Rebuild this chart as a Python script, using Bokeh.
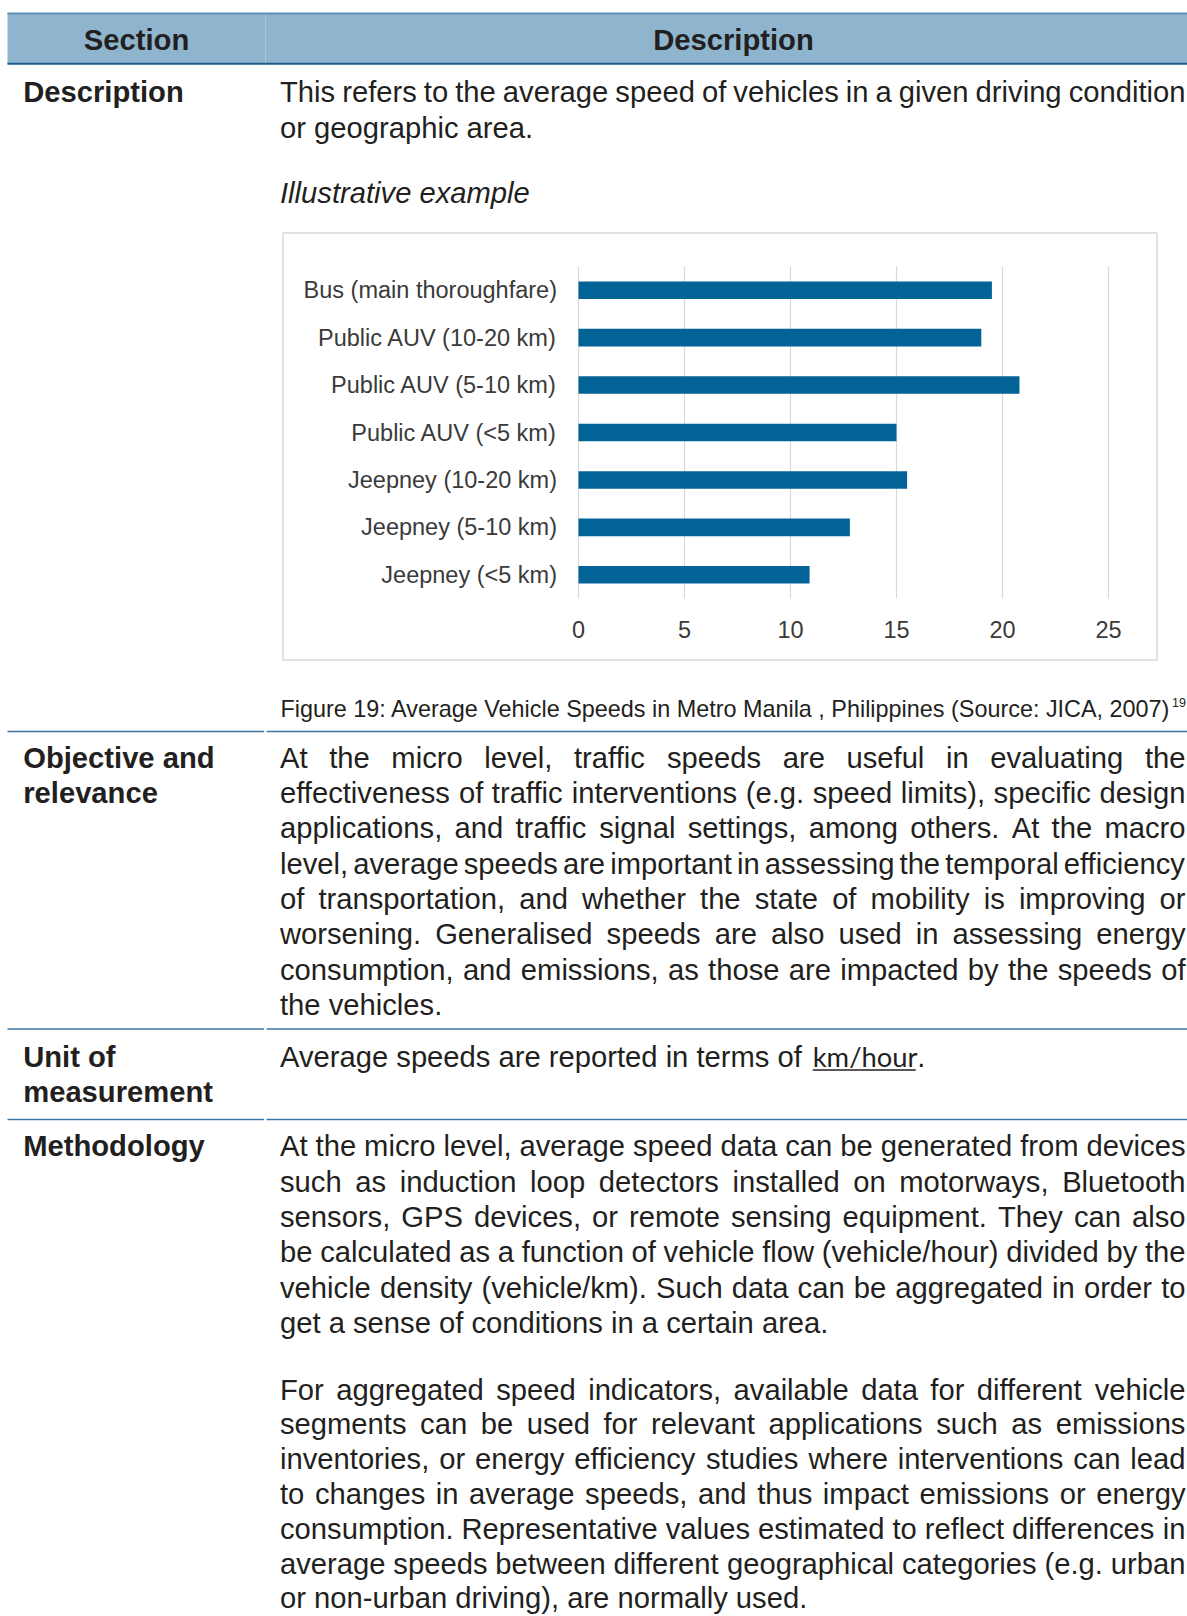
from bokeh.plotting import figure
from bokeh.models import Range1d
from bokeh.core.properties import value
from bokeh.embed import file_html
from bokeh.resources import INLINE

# ---------------- chart data ----------------
categories = [
    "Bus (main thoroughfare)",
    "Public AUV (10-20 km)",
    "Public AUV (5-10 km)",
    "Public AUV (<5 km)",
    "Jeepney (10-20 km)",
    "Jeepney (5-10 km)",
    "Jeepney (<5 km)",
]
speeds = [19.5, 19.0, 20.8, 15.0, 15.5, 12.8, 10.9]
x_ticks = [0, 5, 10, 15, 20, 25]
x_min, x_max = 0, 25

# ---------------- page text ----------------
header_left = "Section"
header_right = "Description"
row_labels = [["Description"], ["Objective and", "relevance"], ["Unit of", "measurement"], ["Methodology"]]
desc_lines = [
    "This refers to the average speed of vehicles in a given driving condition",
    "or geographic area.",
]
illustrative = "Illustrative example"
caption = "Figure 19: Average Vehicle Speeds in Metro Manila , Philippines (Source: JICA, 2007)"
caption_sup = "19"
objective_lines = [
    "At the micro level, traffic speeds are useful in evaluating the",
    "effectiveness of traffic interventions (e.g. speed limits), specific design",
    "applications, and traffic signal settings, among others. At the macro",
    "level, average speeds are important in assessing the temporal efficiency",
    "of transportation, and whether the state of mobility is improving or",
    "worsening. Generalised speeds are also used in assessing energy",
    "consumption, and emissions, as those are impacted by the speeds of",
    "the vehicles.",
]
unit_prefix = "Average speeds are reported in terms of "
unit_link = "km/hour"
unit_suffix = "."
method_p1 = [
    "At the micro level, average speed data can be generated from devices",
    "such as induction loop detectors installed on motorways, Bluetooth",
    "sensors, GPS devices, or remote sensing equipment. They can also",
    "be calculated as a function of vehicle flow (vehicle/hour) divided by the",
    "vehicle density (vehicle/km). Such data can be aggregated in order to",
    "get a sense of conditions in a certain area.",
]
method_p2 = [
    "For aggregated speed indicators, available data for different vehicle",
    "segments can be used for relevant applications such as emissions",
    "inventories, or energy efficiency studies where interventions can lead",
    "to changes in average speeds, and thus impact emissions or energy",
    "consumption. Representative values estimated to reflect differences in",
    "average speeds between different geographical categories (e.g. urban",
    "or non-urban driving), are normally used.",
]

# Arial / Liberation Sans advance widths (1/1000 em)
_W = {' ': 278, '!': 278, '"': 355, '#': 556, '$': 556, '%': 889, '&': 667, "'": 191,
      '(': 333, ')': 333, '*': 389, '+': 584, ',': 278, '-': 333, '.': 278, '/': 278,
      ':': 278, ';': 278, '<': 584, '=': 584, '>': 584, '?': 556, '@': 1015,
      'A': 667, 'B': 667, 'C': 722, 'D': 722, 'E': 667, 'F': 611, 'G': 778, 'H': 722,
      'I': 278, 'J': 500, 'K': 667, 'L': 556, 'M': 833, 'N': 722, 'O': 778, 'P': 667,
      'Q': 778, 'R': 722, 'S': 667, 'T': 611, 'U': 722, 'V': 667, 'W': 944, 'X': 667,
      'Y': 667, 'Z': 611,
      'a': 556, 'b': 556, 'c': 500, 'd': 556, 'e': 556, 'f': 278, 'g': 556, 'h': 556,
      'i': 222, 'j': 222, 'k': 500, 'l': 222, 'm': 833, 'n': 556, 'o': 556, 'p': 556,
      'q': 556, 'r': 333, 's': 500, 't': 278, 'u': 556, 'v': 500, 'w': 722, 'x': 500,
      'y': 500, 'z': 500}
for _d in "0123456789":
    _W[_d] = 556


def tw(s, size):
    return sum(_W.get(c, 556) for c in s) * size / 1000.0


FONT = "Liberation Sans"
TXT = "#231f20"
BODY = 29.2
STEP = 35.3
X0, X1 = 279.5, 1185.0


def paragraph(lines, y0, xs, ys, ts, step=STEP):
    """Justified paragraph: every line but the last is spread to the full width."""
    for i, line in enumerate(lines):
        y = y0 + i * step
        if i == len(lines) - 1:
            xs.append(X0); ys.append(y); ts.append(line)
            continue
        words = line.split(" ")
        widths = [tw(w, BODY) for w in words]
        gap = (X1 - X0 - sum(widths)) / (len(words) - 1)
        x = X0
        for w, wd in zip(words, widths):
            xs.append(x); ys.append(y); ts.append(w)
            x += wd + gap


W_PX, H_PX = 1187, 1616
p = figure(width=W_PX, height=H_PX, x_range=Range1d(0, W_PX), y_range=Range1d(H_PX, 0),
           output_backend="svg", toolbar_location=None, min_border=0,
           x_axis_location=None, y_axis_location=None, outline_line_color=None,
           background_fill_color="white", border_fill_color="white")
p.xgrid.visible = False
p.ygrid.visible = False

# ---------------- header band ----------------
p.quad(left=7, right=1187, top=12.5, bottom=63.5, fill_color="#8fb4cd", line_color=None)
p.segment(x0=[7], y0=[13], x1=[1187], y1=[13], line_color="#5d8fb5", line_width=2)
p.segment(x0=[7], y0=[63.2], x1=[1187], y1=[63.2], line_color="#1b5b8b", line_width=2)
p.segment(x0=[265], y0=[14], x1=[265], y1=[62], line_color="#a6c3d8", line_width=1)
p.text(x=[136, 733], y=[39, 39], text=[header_left, header_right], text_align="center",
       text_baseline="middle", text_font=value(FONT), text_font_style="bold",
       text_font_size="29.2px", text_color=TXT)

# ---------------- row separators ----------------
for ysep in [731, 1028.5, 1119]:
    p.segment(x0=[7, 266], y0=[ysep, ysep], x1=[263.5, 1187], y1=[ysep, ysep],
              line_color="#3a76a4", line_width=1.6)

# ---------------- left column labels ----------------
lab_x, lab_y, lab_t = [], [], []
for y0, lines in zip([91.7, 757.3, 1056.2, 1145.8], row_labels):
    for k, t in enumerate(lines):
        lab_x.append(22.7); lab_y.append(y0 + k * STEP); lab_t.append(t)
p.text(x=lab_x, y=lab_y, text=lab_t, text_align="left", text_baseline="middle",
       text_font=value(FONT), text_font_style="bold", text_font_size="29.2px", text_color=TXT)

# ---------------- body text ----------------
bx, by, bt = [], [], []
paragraph(desc_lines, 91.7, bx, by, bt)
paragraph(objective_lines, 757.3, bx, by, bt)
paragraph(method_p1, 1145.8, bx, by, bt)
paragraph(method_p2, 1389.0, bx, by, bt, step=34.8)
bx.append(X0); by.append(1056.2); bt.append(unit_prefix.rstrip())
p.text(x=bx, y=by, text=bt, text_align="left", text_baseline="middle",
       text_font=value(FONT), text_font_size="29.2px", text_color=TXT)

link_x = X0 + tw(unit_prefix, BODY) + 2
link_w = 103
p.text(x=[link_x], y=[1056.2], text=[unit_link], text_align="left", text_baseline="middle",
       text_font=value("Lato"), text_font_size="27.4px", text_color=TXT)
p.segment(x0=[link_x], y0=[1069.5], x1=[link_x + link_w], y1=[1069.5], line_color=TXT, line_width=1.5)
p.text(x=[link_x + link_w + 1.5], y=[1056.2], text=[unit_suffix], text_align="left",
       text_baseline="middle", text_font=value(FONT), text_font_size="29.2px", text_color=TXT)

p.text(x=[X0], y=[192.7], text=[illustrative], text_align="left", text_baseline="middle",
       text_font=value(FONT), text_font_style="italic", text_font_size="29.2px", text_color=TXT)

p.text(x=[280], y=[708], text=[caption], text_align="left", text_baseline="middle",
       text_font=value(FONT), text_font_size="23.4px", text_color=TXT)
p.text(x=[1171.5], y=[702], text=[caption_sup], text_align="left", text_baseline="middle",
       text_font=value(FONT), text_font_size="12.5px", text_color=TXT)

# ---------------- chart box ----------------
p.quad(left=282.5, right=1156.5, top=232.5, bottom=659.5, fill_color="white",
       line_color="#d9d9d9", line_width=1.5)

n = len(categories)
ypos = [n - i - 0.5 for i in range(n)]
sub = p.subplot(x_source=Range1d(x_min, x_max), y_source=Range1d(0, n),
                x_target=Range1d(578, 1108), y_target=Range1d(598, 266))
sub.segment(x0=x_ticks, y0=[0] * len(x_ticks), x1=x_ticks, y1=[n] * len(x_ticks),
            line_color="#d9d9d9", line_width=1.2)
sub.hbar(y=ypos, left=0, right=speeds, height=0.37, fill_color="#036397", line_color=None)
sub.text(x=x_ticks, y=[0] * len(x_ticks), text=[str(t) for t in x_ticks], y_offset=30.5,
         text_align="center", text_baseline="middle", text_font=value(FONT),
         text_font_size="23.5px", text_color="#3a3a3a")
sub.text(x=[0] * n, y=ypos, text=categories, x_offset=-21.5, text_align="right",
         text_baseline="middle", text_font=value(FONT), text_font_size="23.5px",
         text_color="#3a3a3a")

open("out.html", "w").write(file_html(p, INLINE))
